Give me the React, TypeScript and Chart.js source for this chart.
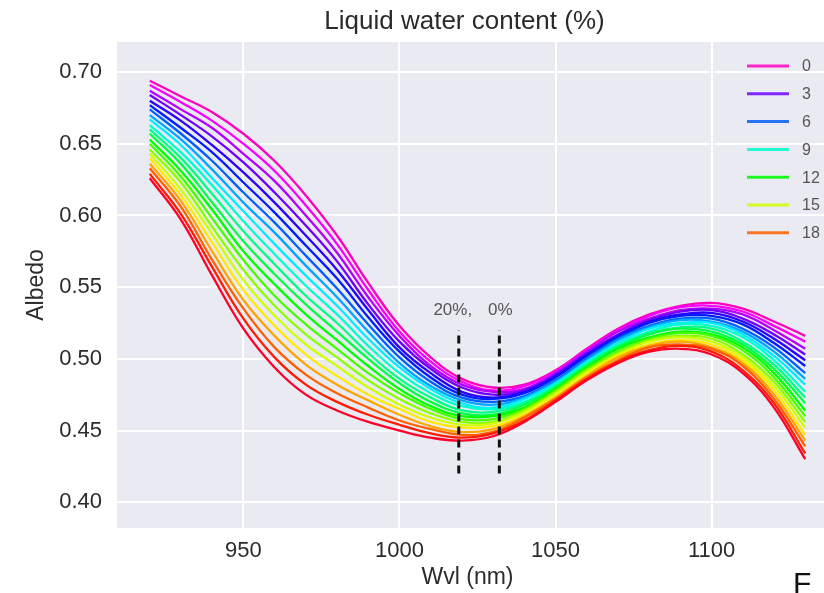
import React, { useEffect, useRef } from 'react';
import { Chart, registerables } from 'chart.js';

Chart.register(...registerables);

// Wavelength grid (nm) shared by every albedo curve
const wavelengths = [920, 930, 940, 950, 960, 970, 980, 990, 1000, 1010, 1020, 1030, 1040, 1050, 1060, 1070, 1080, 1090, 1100, 1110, 1120, 1130];

// Snow albedo for liquid water content 0 % .. 20 %
const lwc00 = [0.694, 0.683, 0.672, 0.657, 0.638, 0.614, 0.586, 0.553, 0.523, 0.501, 0.486, 0.480, 0.482, 0.492, 0.507, 0.521, 0.531, 0.537, 0.539, 0.535, 0.526, 0.516];
const lwc01 = [0.691, 0.679, 0.666, 0.650, 0.631, 0.607, 0.580, 0.548, 0.519, 0.498, 0.484, 0.478, 0.481, 0.491, 0.506, 0.520, 0.530, 0.536, 0.537, 0.533, 0.523, 0.512];
const lwc02 = [0.687, 0.674, 0.661, 0.643, 0.624, 0.600, 0.574, 0.543, 0.516, 0.495, 0.482, 0.477, 0.479, 0.490, 0.505, 0.519, 0.528, 0.534, 0.535, 0.531, 0.520, 0.507];
const lwc03 = [0.684, 0.670, 0.655, 0.637, 0.616, 0.593, 0.568, 0.538, 0.512, 0.493, 0.480, 0.475, 0.478, 0.489, 0.504, 0.517, 0.527, 0.533, 0.534, 0.528, 0.517, 0.503];
const lwc04 = [0.680, 0.666, 0.649, 0.630, 0.609, 0.586, 0.562, 0.534, 0.508, 0.490, 0.477, 0.473, 0.477, 0.488, 0.503, 0.516, 0.526, 0.531, 0.532, 0.526, 0.514, 0.499];
const lwc05 = [0.677, 0.661, 0.644, 0.623, 0.602, 0.579, 0.556, 0.529, 0.505, 0.487, 0.475, 0.472, 0.476, 0.487, 0.502, 0.515, 0.525, 0.530, 0.530, 0.524, 0.511, 0.495];
const lwc06 = [0.674, 0.657, 0.638, 0.616, 0.595, 0.572, 0.549, 0.524, 0.501, 0.484, 0.473, 0.470, 0.474, 0.485, 0.500, 0.514, 0.523, 0.528, 0.528, 0.521, 0.508, 0.490];
const lwc07 = [0.670, 0.653, 0.632, 0.609, 0.588, 0.565, 0.543, 0.519, 0.497, 0.481, 0.471, 0.468, 0.473, 0.484, 0.499, 0.513, 0.522, 0.527, 0.526, 0.519, 0.505, 0.486];
const lwc08 = [0.667, 0.649, 0.626, 0.603, 0.580, 0.558, 0.537, 0.514, 0.494, 0.479, 0.469, 0.466, 0.472, 0.483, 0.498, 0.511, 0.521, 0.525, 0.525, 0.517, 0.502, 0.482];
const lwc09 = [0.663, 0.644, 0.621, 0.596, 0.573, 0.551, 0.531, 0.509, 0.490, 0.476, 0.467, 0.465, 0.470, 0.482, 0.497, 0.510, 0.519, 0.524, 0.523, 0.515, 0.499, 0.477];
const lwc10 = [0.660, 0.640, 0.615, 0.589, 0.566, 0.544, 0.525, 0.504, 0.486, 0.473, 0.464, 0.463, 0.469, 0.481, 0.496, 0.509, 0.518, 0.522, 0.521, 0.512, 0.496, 0.473];
const lwc11 = [0.657, 0.636, 0.609, 0.582, 0.559, 0.538, 0.519, 0.500, 0.483, 0.470, 0.462, 0.461, 0.468, 0.480, 0.495, 0.508, 0.517, 0.521, 0.519, 0.510, 0.493, 0.469];
const lwc12 = [0.653, 0.631, 0.604, 0.575, 0.552, 0.531, 0.513, 0.495, 0.479, 0.467, 0.460, 0.460, 0.466, 0.479, 0.494, 0.507, 0.515, 0.519, 0.517, 0.508, 0.490, 0.464];
const lwc13 = [0.650, 0.627, 0.598, 0.569, 0.544, 0.524, 0.507, 0.490, 0.476, 0.465, 0.458, 0.458, 0.465, 0.478, 0.493, 0.505, 0.514, 0.518, 0.516, 0.506, 0.487, 0.460];
const lwc14 = [0.646, 0.623, 0.592, 0.562, 0.537, 0.517, 0.501, 0.485, 0.472, 0.462, 0.456, 0.456, 0.464, 0.477, 0.492, 0.504, 0.513, 0.516, 0.514, 0.503, 0.484, 0.456];
const lwc15 = [0.643, 0.618, 0.587, 0.555, 0.530, 0.510, 0.495, 0.480, 0.468, 0.459, 0.454, 0.455, 0.463, 0.476, 0.491, 0.503, 0.512, 0.515, 0.512, 0.501, 0.481, 0.452];
const lwc16 = [0.640, 0.614, 0.581, 0.548, 0.523, 0.503, 0.488, 0.475, 0.465, 0.456, 0.452, 0.453, 0.461, 0.474, 0.489, 0.502, 0.510, 0.513, 0.510, 0.499, 0.478, 0.447];
const lwc17 = [0.636, 0.610, 0.575, 0.541, 0.516, 0.496, 0.482, 0.471, 0.461, 0.453, 0.449, 0.451, 0.460, 0.473, 0.488, 0.501, 0.509, 0.512, 0.508, 0.497, 0.475, 0.443];
const lwc18 = [0.633, 0.606, 0.569, 0.535, 0.508, 0.489, 0.476, 0.466, 0.457, 0.451, 0.447, 0.449, 0.459, 0.472, 0.487, 0.499, 0.508, 0.510, 0.507, 0.495, 0.472, 0.439];
const lwc19 = [0.629, 0.601, 0.564, 0.528, 0.501, 0.482, 0.470, 0.461, 0.454, 0.448, 0.445, 0.448, 0.457, 0.471, 0.486, 0.498, 0.506, 0.509, 0.505, 0.492, 0.469, 0.434];
const lwc20 = [0.626, 0.597, 0.558, 0.521, 0.494, 0.475, 0.464, 0.456, 0.450, 0.445, 0.443, 0.446, 0.456, 0.470, 0.485, 0.497, 0.505, 0.507, 0.503, 0.490, 0.466, 0.430];

const lwcSeries = [lwc00, lwc01, lwc02, lwc03, lwc04, lwc05, lwc06, lwc07, lwc08, lwc09, lwc10,
  lwc11, lwc12, lwc13, lwc14, lwc15, lwc16, lwc17, lwc18, lwc19, lwc20];
const lwcPercents = [0, 1, 2, 3, 4, 5, 6, 7, 8, 9, 10, 11, 12, 13, 14, 15, 16, 17, 18, 19, 20];
const legendPercents = [0, 3, 6, 9, 12, 15, 18];

// Wavelengths of the absorption minimum for the wettest and driest snow
const minimaMarkers = [
  { wvl: 1019, label: '20%,', shift: -6 },
  { wvl: 1032, label: '0%', shift: 1 },
];
const markerRange = [0.42, 0.52];

const xTicks = [950, 1000, 1050, 1100];
const yTicks = [0.40, 0.45, 0.50, 0.55, 0.60, 0.65, 0.70];

const FONT = '"Liberation Sans", Arial, Helvetica, sans-serif';
const TEXT = '#2b2b2b';
const PANEL = '#eaeaf2';

// gist_rainbow colour map
const rainbowStops: [number, number, number, number][] = [
  [0.0, 1, 0, 0.16],
  [0.03, 1, 0, 0],
  [0.215, 1, 1, 0],
  [0.4, 0, 1, 0],
  [0.586, 0, 1, 1],
  [0.77, 0, 0, 1],
  [0.954, 1, 0, 1],
  [1.0, 1, 0, 0.75],
];
function rainbow(t: number): string {
  for (let i = 0; i < rainbowStops.length - 1; i++) {
    const a = rainbowStops[i];
    const b = rainbowStops[i + 1];
    if (t >= a[0] && t <= b[0]) {
      const f = (t - a[0]) / (b[0] - a[0]);
      const c = [1, 2, 3].map((j) => Math.round(255 * (a[j] + (b[j] - a[j]) * f)));
      return `rgb(${c[0]},${c[1]},${c[2]})`;
    }
  }
  return 'rgb(255,0,191)';
}
const colorFor = (pct: number) => rainbow(1 - pct / 20);

const decorPlugin = {
  id: 'decor',
  beforeDraw(chart: any) {
    const { ctx, chartArea: a } = chart;
    ctx.save();
    ctx.fillStyle = '#ffffff';
    ctx.fillRect(0, 0, chart.width, chart.height);
    ctx.fillStyle = PANEL;
    ctx.fillRect(a.left, a.top, a.right - a.left, a.bottom - a.top);
    ctx.restore();
  },
  afterDraw(chart: any) {
    const { ctx, chartArea: a, scales } = chart;
    const cx = (a.left + a.right) / 2 - 10;
    ctx.save();
    ctx.fillStyle = TEXT;
    ctx.textAlign = 'center';
    ctx.textBaseline = 'middle';

    ctx.font = `26px ${FONT}`;
    ctx.fillText('Liquid water content (%)', cx - 3, 22);

    ctx.font = `23px ${FONT}`;
    ctx.fillText('Wvl (nm)', cx, 578);

    ctx.save();
    ctx.translate(37, (a.top + a.bottom) / 2);
    ctx.rotate(-Math.PI / 2);
    ctx.fillText('Albedo', 0, 0);
    ctx.restore();

    // labels above the dashed minimum markers
    ctx.font = `17px ${FONT}`;
    ctx.fillStyle = '#555555';
    const yTop = scales.y.getPixelForValue(markerRange[1]);
    minimaMarkers.forEach((m) => {
      ctx.fillText(m.label, scales.x.getPixelForValue(m.wvl) + m.shift, yTop - 20);
    });

    // legend
    ctx.textAlign = 'left';
    ctx.font = `16px ${FONT}`;
    legendPercents.forEach((p, i) => {
      const y = 66 + i * 27.8;
      ctx.strokeStyle = colorFor(p);
      ctx.globalAlpha = 0.85;
      ctx.lineWidth = 3;
      ctx.beginPath();
      ctx.moveTo(747, y);
      ctx.lineTo(789, y);
      ctx.stroke();
      ctx.globalAlpha = 1;
      ctx.fillStyle = '#555555';
      ctx.fillText(String(p), 802, y + 1);
    });

    // caption letter at the lower right
    ctx.fillStyle = '#111111';
    ctx.font = `30px ${FONT}`;
    ctx.textBaseline = 'alphabetic';
    ctx.fillText('F', 793, 593);
    ctx.restore();
  },
};

export default function App() {
  const canvasRef = useRef<HTMLCanvasElement | null>(null);

  useEffect(() => {
    if (!canvasRef.current) return;

    const curveSets = lwcSeries.map((vals, k) => ({
      label: String(lwcPercents[k]),
      data: wavelengths.map((w, i) => ({ x: w, y: vals[i] })),
      borderColor: colorFor(lwcPercents[k]),
      borderWidth: 2.3,
      pointRadius: 0,
      fill: false,
      tension: 0.4,
      order: 21 - k,
    }));

    const markerSets = minimaMarkers.map((m) => ({
      label: m.label,
      data: markerRange.map((y) => ({ x: m.wvl, y })),
      borderColor: '#111111',
      borderWidth: 3,
      borderDash: [8, 5],
      pointRadius: 0,
      fill: false,
      order: 0,
    }));

    const tickFont = { family: FONT, size: 22 };

    const chart = new Chart(canvasRef.current, {
      type: 'line',
      data: { datasets: [...curveSets, ...markerSets] as any },
      options: {
        responsive: false,
        animation: false,
        devicePixelRatio: 1,
        layout: { padding: { top: 42, right: 14, left: 0, bottom: 0 } },
        plugins: {
          legend: { display: false },
          title: { display: false },
          tooltip: { enabled: false },
        },
        scales: {
          x: {
            type: 'linear',
            min: 909.5,
            max: 1140.5,
            afterFit: (s: any) => { s.height = 65; },
            afterBuildTicks: (s: any) => { s.ticks = xTicks.map((v) => ({ value: v })); },
            grid: { color: '#ffffff', lineWidth: 2, drawTicks: false },
            border: { display: false },
            ticks: { padding: 10, color: TEXT, font: tickFont, callback: (v: any) => String(v) },
          },
          y: {
            type: 'linear',
            min: 0.382,
            max: 0.721,
            afterFit: (s: any) => { s.width = 117; },
            afterBuildTicks: (s: any) => { s.ticks = yTicks.map((v) => ({ value: v })); },
            grid: { color: '#ffffff', lineWidth: 2, drawTicks: false },
            border: { display: false },
            ticks: { padding: 15, color: TEXT, font: tickFont, callback: (v: any) => Number(v).toFixed(2) },
          },
        },
      },
      plugins: [decorPlugin],
    });

    return () => chart.destroy();
  }, []);

  return (
    <div style={{ position: 'fixed', left: 0, top: 0, width: 824, height: 593, overflow: 'hidden', background: '#ffffff' }}>
      <canvas ref={canvasRef} width={852} height={593} style={{ display: 'block' }} />
    </div>
  );
}
